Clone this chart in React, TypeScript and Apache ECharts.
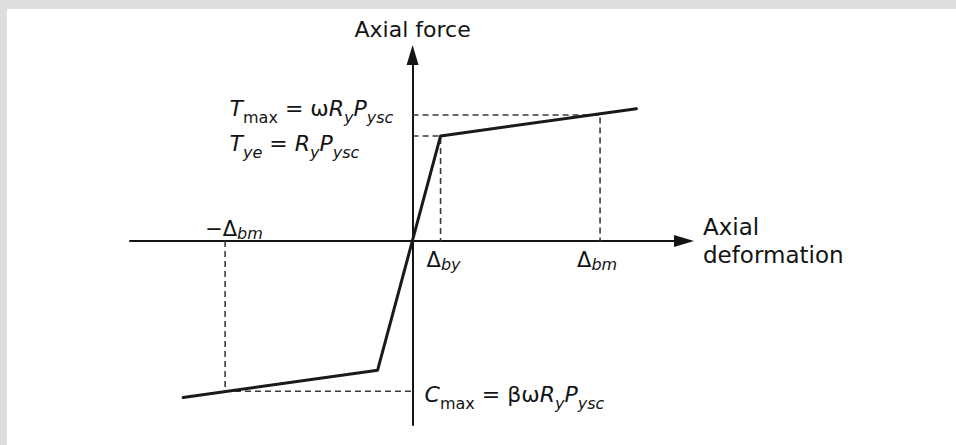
import React, { useEffect, useRef } from "react";
import * as echarts from "echarts";

const FONT = "'DejaVu Sans', 'Liberation Sans', Arial, sans-serif";
const INK = "#141414";
const GUIDE = "#3a3a3a";

// Key points of the brace's axial force – axial deformation backbone.
// Deformation is expressed in units of the yield deformation, force in units of Tye.
const DELTA_BY = 1.0;
const DELTA_BM = 6.7;
const T_YE = 1.0;
const T_MAX = 1.2;
const C_MAX = -1.43;

// Backbone curve: compression end, compression yield, tension yield, tension end
const backboneX = [-8.2, -1.25, DELTA_BY, 8.0];
const backboneY = [-1.49, -1.23, T_YE, 1.26];

// Dashed reference lines (as x/y lists)
const guideTmaxX = [0, DELTA_BM, DELTA_BM];
const guideTmaxY = [T_MAX, T_MAX, 0];
const guideTyeX = [0, DELTA_BY, DELTA_BY];
const guideTyeY = [T_YE, T_YE, 0];
const guideCmaxX = [-DELTA_BM, -DELTA_BM, 0];
const guideCmaxY = [0, C_MAX, C_MAX];

// Annotations and the points they refer to
const labelTexts = [
  "{i|T}{sm|max}{r| = ω}{i|R}{s|y}{i|P}{s|ysc}",
  "{i|T}{s|ye}{r| = }{i|R}{s|y}{i|P}{s|ysc}",
  "{i|C}{sm|max}{r| = βω}{i|R}{s|y}{i|P}{s|ysc}",
  "{d|−Δ}{ds|bm}",
  "{d|Δ}{ds|by}",
  "{d|Δ}{ds|bm}",
];
const labelAnchorX = [0, 0, 0, -DELTA_BM, DELTA_BY, DELTA_BM];
const labelAnchorY = [T_MAX, T_YE, C_MAX, 0, 0, 0];

const X_AXIS_NAME = "Axial\ndeformation";
const Y_AXIS_NAME = "Axial force";

const zip = (xs: number[], ys: number[]) => xs.map((x, i) => [x, ys[i]]);

export default function App() {
  const ref = useRef<HTMLDivElement>(null);

  useEffect(() => {
    if (!ref.current) return;
    const chart = echarts.init(ref.current, undefined, { renderer: "svg" });

    const base = { fontFamily: FONT, color: INK, textBorderWidth: 0 };
    const rich: Record<string, any> = {
      i: { ...base, fontSize: 22, fontStyle: "italic", lineHeight: 26 },
      r: { ...base, fontSize: 22, lineHeight: 26 },
      s: { ...base, fontSize: 16, fontStyle: "italic", lineHeight: 19, padding: [18, 0, 0, 0] },
      sm: { ...base, fontSize: 16, lineHeight: 19, padding: [18, 0, 0, 0] },
      d: { ...base, fontSize: 21, lineHeight: 24 },
      ds: { ...base, fontSize: 16, fontStyle: "italic", lineHeight: 18, padding: [9, 0, 0, 0] },
    };

    // pixel offsets of each annotation from its anchor point
    const labelOffsets = [
      [-183, -6],
      [-183, 8],
      [12, 3],
      [-20, -12],
      [-14, 19],
      [-23, 19],
    ];

    const guideStyle = { color: GUIDE, width: 1.6, type: [6, 4] as any };

    const option: any = {
      animation: false,
      backgroundColor: "#dedede",
      graphic: [
        {
          type: "rect",
          z: -10,
          silent: true,
          shape: { x: 7, y: 9, width: 949, height: 436 },
          style: { fill: "#ffffff" },
        },
      ],
      grid: { left: 130, right: 272, top: 55, bottom: 20, containLabel: false },
      xAxis: {
        type: "value",
        min: -10.1,
        max: 9.7,
        name: X_AXIS_NAME,
        nameLocation: "end",
        nameGap: 19,
        nameTextStyle: {
          fontFamily: FONT,
          fontSize: 23,
          lineHeight: 28,
          color: INK,
          align: "left",
          verticalAlign: "middle",
        },
        axisLine: {
          onZero: true,
          symbol: ["none", "triangle"],
          symbolSize: [12, 20],
          lineStyle: { color: INK, width: 2 },
        },
        axisTick: { show: false },
        axisLabel: { show: false },
        splitLine: { show: false },
      },
      yAxis: {
        type: "value",
        min: -1.752,
        max: 1.771,
        name: Y_AXIS_NAME,
        nameLocation: "end",
        nameGap: 15,
        nameTextStyle: { fontFamily: FONT, fontSize: 22, color: INK, align: "center" },
        axisLine: {
          onZero: true,
          symbol: ["none", "triangle"],
          symbolSize: [12, 20],
          lineStyle: { color: INK, width: 2 },
        },
        axisTick: { show: false },
        axisLabel: { show: false },
        splitLine: { show: false },
      },
      series: [
        {
          type: "line",
          data: zip(guideTmaxX, guideTmaxY),
          symbol: "none",
          lineStyle: guideStyle,
          z: 1,
        },
        {
          type: "line",
          data: zip(guideTyeX, guideTyeY),
          symbol: "none",
          lineStyle: guideStyle,
          z: 1,
        },
        {
          type: "line",
          data: zip(guideCmaxX, guideCmaxY),
          symbol: "none",
          lineStyle: guideStyle,
          z: 1,
        },
        {
          type: "line",
          data: zip(backboneX, backboneY),
          symbol: "none",
          lineStyle: { color: "#1a1a1a", width: 3, join: "round", cap: "round" },
          z: 3,
        },
        {
          type: "scatter",
          symbolSize: 0,
          itemStyle: { color: "rgba(0,0,0,0)" },
          silent: true,
          z: 4,
          data: labelTexts.map((text, i) => ({
            value: [labelAnchorX[i], labelAnchorY[i]],
            label: {
              show: true,
              position: "inside",
              align: "left",
              verticalAlign: "middle",
              offset: labelOffsets[i],
              formatter: text,
              color: INK,
              opacity: 1,
              textBorderWidth: 0,
              textBorderColor: "transparent",
              rich,
            },
          })),
        },
      ],
    };

    chart.setOption(option);
    return () => chart.dispose();
  }, []);

  return (
    <div
      ref={ref}
      style={{ position: "fixed", left: 0, top: 0, width: 956, height: 445 }}
    />
  );
}
